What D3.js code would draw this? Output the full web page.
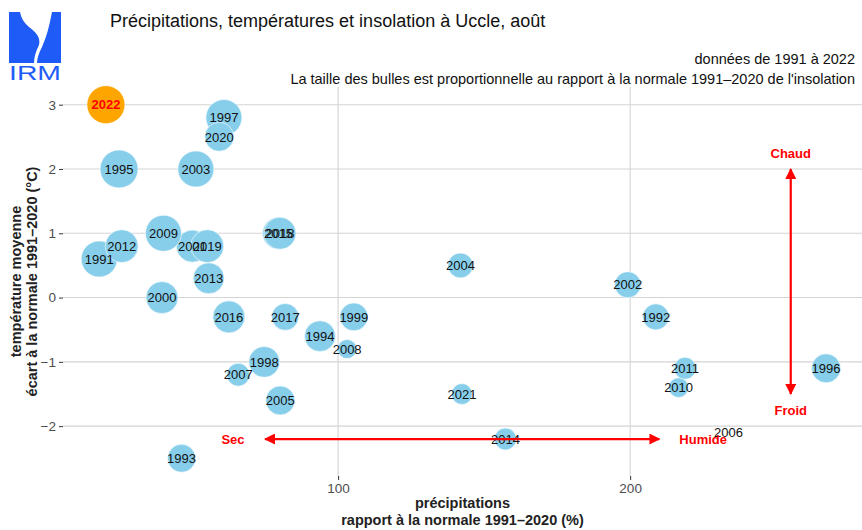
<!DOCTYPE html>
<html lang="fr">
<head>
<meta charset="UTF-8">
<title>Uccle, août</title>
<script src="https://d3js.org/d3.v7.min.js"></script>
<style>
  body { margin: 0; background: #fff; font-family: "Liberation Sans", Arial, sans-serif; }
</style>
</head>
<body>
<script>
const width = 862, height = 530;

// years, precipitation ratio (%), temperature anomaly (°C), sunshine ratio (%)
const years  = [1991, 1992, 1993, 1994, 1995, 1996, 1997, 1998, 1999, 2000, 2001, 2002, 2003, 2004, 2005, 2006,
                2007, 2008, 2009, 2010, 2011, 2012, 2013, 2014, 2015, 2016, 2017, 2018, 2019, 2020, 2021, 2022];
const precip = [18.2, 208.8, 46.4, 93.8, 25.0, 267.1, 60.9, 74.7, 105.4, 39.7, 50.1, 199.2, 51.3, 141.9, 80.2, 233.7,
                65.8, 103.1, 40.2, 216.6, 218.8, 25.9, 55.7, 157.3, 79.6, 62.6, 81.9, 80.1, 55.2, 59.3, 142.4, 20.5];
const temp   = [0.6, -0.3, -2.5, -0.6, 2.0, -1.1, 2.8, -1.0, -0.3, 0.0, 0.8, 0.2, 2.0, 0.5, -1.6, -2.1,
                -1.2, -0.8, 1.0, -1.4, -1.1, 0.8, 0.3, -2.2, 1.0, -0.3, -0.3, 1.0, 0.8, 2.5, -1.5, 3.0];
const insol  = [140, 97, 104, 116, 150, 108, 140, 116, 104, 121, 121, 97, 140, 93, 108, 50,
                86, 75, 140, 77, 83, 125, 116, 83, 121, 121, 100, 121, 125, 108, 80, 150];

const yTicks = [-2, -1, 0, 1, 2, 3];
const xTicks = [100, 200];

// annotation arrows (data units)
const arrowV = {x: 255, y1: -1.5, y2: 2.0};
const arrowH = {y: -2.2, x1: 75, x2: 210};
const notes = [
  {text: "Chaud",  x: 255, y: 2.25},
  {text: "Froid",  x: 255, y: -1.75},
  {text: "Sec",    x: 64,  y: -2.2},
  {text: "Humide", x: 225, y: -2.2}
];

const data = years.map((y, i) => ({year: y, p: precip[i], t: temp[i], s: insol[i]}));

const margin = {top: 87, right: 0, bottom: 54, left: 63};
const font = '"Liberation Sans", Arial, sans-serif';

const svg = d3.select("body").append("svg")
  .attr("width", width).attr("height", height)
  .style("font-family", font);

const x = d3.scaleLinear().domain([5.8, 279.4]).range([margin.left, width - margin.right]);
const y = d3.scaleLinear().domain([-2.775, 3.275]).range([height - margin.bottom, margin.top]);
const r = d3.scaleRadial().domain([50, 150]).range([1, 19]);

// grid
svg.append("g").selectAll("line").data(yTicks).enter().append("line")
  .attr("x1", margin.left).attr("x2", width - margin.right)
  .attr("y1", d => y(d)).attr("y2", d => y(d))
  .attr("stroke", "#d4d4d4").attr("stroke-width", 1.1);
svg.append("g").selectAll("line").data(xTicks).enter().append("line")
  .attr("x1", d => x(d)).attr("x2", d => x(d))
  .attr("y1", margin.top).attr("y2", height - margin.bottom)
  .attr("stroke", "#d4d4d4").attr("stroke-width", 1.1);

// axes
const yAxis = svg.append("g").attr("transform", `translate(${margin.left},0)`)
  .call(d3.axisLeft(y).tickValues(yTicks).tickSize(4).tickPadding(3).tickFormat(d => d < 0 ? "\u2212" + Math.abs(d) : d));
const xAxis = svg.append("g").attr("transform", `translate(0,${height - margin.bottom})`)
  .call(d3.axisBottom(x).tickValues(xTicks).tickSize(4).tickPadding(3));
[yAxis, xAxis].forEach(a => {
  a.select(".domain").remove();
  a.selectAll(".tick line").attr("stroke", "#333");
  a.selectAll(".tick text").attr("fill", "#4d4d4d")
    .style("font-size", "13.5px").style("font-family", font);
});

// bubbles
const others = data.filter(d => d.year !== 2022);
const last = data.filter(d => d.year === 2022);

svg.append("g").selectAll("circle").data(others).enter().append("circle")
  .attr("cx", d => x(d.p)).attr("cy", d => y(d.t)).attr("r", d => r(d.s))
  .attr("fill", "#87ceeb").attr("stroke", "#fff").attr("stroke-width", 0.6);
svg.append("g").selectAll("circle").data(last).enter().append("circle")
  .attr("cx", d => x(d.p)).attr("cy", d => y(d.t)).attr("r", d => r(d.s))
  .attr("fill", "#ffa500").attr("stroke", "#fff").attr("stroke-width", 0.6);

svg.append("g").selectAll("text").data(others).enter().append("text")
  .attr("x", d => x(d.p)).attr("y", d => y(d.t)).attr("dy", "0.36em")
  .attr("text-anchor", "middle").style("font-size", "13px").attr("fill", "#111")
  .text(d => d.year);
svg.append("g").selectAll("text").data(last).enter().append("text")
  .attr("x", d => x(d.p)).attr("y", d => y(d.t)).attr("dy", "0.36em")
  .attr("text-anchor", "middle").style("font-size", "13px").style("font-weight", "bold")
  .attr("fill", "#ff0000").text(d => d.year);

// arrows
const defs = svg.append("defs");
defs.append("marker").attr("id", "head").attr("viewBox", "0 0 10 10")
  .attr("refX", 9).attr("refY", 5).attr("markerWidth", 6.5).attr("markerHeight", 5)
  .attr("markerUnits", "strokeWidth").attr("orient", "auto-start-reverse")
  .append("path").attr("d", "M0,0 L10,5 L0,10 Z").attr("fill", "#ff0000");

svg.append("line")
  .attr("x1", x(arrowV.x)).attr("x2", x(arrowV.x)).attr("y1", y(arrowV.y1)).attr("y2", y(arrowV.y2))
  .attr("stroke", "#ff0000").attr("stroke-width", 2.2)
  .attr("marker-start", "url(#head)").attr("marker-end", "url(#head)");
svg.append("line")
  .attr("x1", x(arrowH.x1)).attr("x2", x(arrowH.x2)).attr("y1", y(arrowH.y)).attr("y2", y(arrowH.y))
  .attr("stroke", "#ff0000").attr("stroke-width", 2.2)
  .attr("marker-start", "url(#head)").attr("marker-end", "url(#head)");

svg.append("g").selectAll("text").data(notes).enter().append("text")
  .attr("x", d => x(d.x)).attr("y", d => y(d.y)).attr("dy", "0.36em")
  .attr("text-anchor", "middle").style("font-size", "13px").style("font-weight", "bold")
  .attr("fill", "#ff0000").text(d => d.text);

// axis titles
const xt = svg.append("text").attr("text-anchor", "middle")
  .style("font-size", "14.5px").style("font-weight", "bold").attr("fill", "#222");
xt.append("tspan").attr("x", (margin.left + width - margin.right) / 2).attr("y", 508).text("précipitations");
xt.append("tspan").attr("x", (margin.left + width - margin.right) / 2).attr("y", 525).text("rapport à la normale 1991\u20132020 (%)");

const cy = (margin.top + height - margin.bottom) / 2;
const yt = svg.append("text").attr("text-anchor", "middle")
  .attr("transform", `translate(0,${cy}) rotate(-90)`)
  .style("font-size", "14.5px").style("font-weight", "bold").attr("fill", "#222");
yt.append("tspan").attr("x", 0).attr("y", 21).text("température moyenne");
yt.append("tspan").attr("x", 0).attr("y", 37).text("écart à la normale 1991\u20132020 (°C)");

// title & subtitle
svg.append("text").attr("x", 110).attr("y", 27).style("font-size", "18px").attr("fill", "#111")
  .text("Précipitations, températures et insolation à Uccle, août");
svg.append("text").attr("x", 855).attr("y", 64).attr("text-anchor", "end")
  .style("font-size", "14.5px").attr("fill", "#111").text("données de 1991 à 2022");
svg.append("text").attr("x", 855).attr("y", 84).attr("text-anchor", "end")
  .style("font-size", "14.5px").attr("fill", "#111")
  .text("La taille des bulles est proportionnelle au rapport à la normale 1991\u20132020 de l'insolation");

// logo
const logo = svg.append("g");
logo.append("rect").attr("x", 9).attr("y", 12).attr("width", 52).attr("height", 51).attr("fill", "#1f5cf7");
logo.append("path")
  .attr("d", "M20,12 L52,12 C49,28 46,38 42,47 C39,53 37,58 37,63 L34,63 C34,57 36,51 39,45 C41,38 36,32 29,27 C24,23 21,18 20,12 Z")
  .attr("fill", "#fff");
logo.append("text").attr("x", 9).attr("y", 80).attr("textLength", 52).attr("lengthAdjust", "spacingAndGlyphs")
  .style("font-size", "21px").attr("fill", "#1f5cf7").text("IRM");
</script>
</body>
</html>
